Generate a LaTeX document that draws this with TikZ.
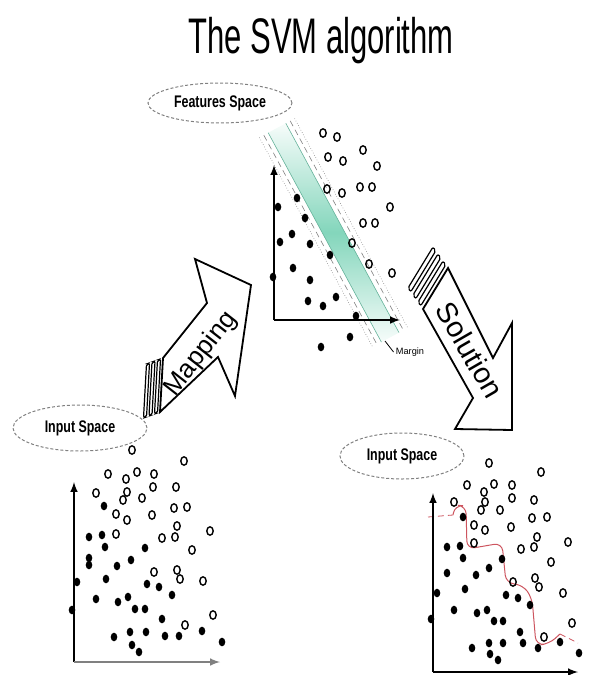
\documentclass[tikz,border=0pt]{standalone}
\usepackage{fontspec}
\setmainfont{Liberation Sans}
\usepackage{graphicx}
\usetikzlibrary{shapes.geometric}
\definecolor{bandgreen}{RGB}{90,200,165}
\definecolor{curvered}{RGB}{205,85,95}
\begin{document}
\begin{tikzpicture}[x=0.5pt,y=-0.5pt,
  spacebox/.style={ellipse, draw=gray, dash pattern=on 1.5pt off 1pt, line width=0.5pt, inner sep=0pt,
    font=\fontsize{8.4}{10}\selectfont\bfseries},
  blockarrow/.style={draw=black, fill=white, line width=0.9pt, line join=miter},
  stripe/.style={draw=black, fill=white, line width=0.6pt, rounded corners=1pt},
  axis/.style={->, >=latex, line width=0.7pt},
  opendot/.style={line width=0.7pt},
  filldot/.style={fill=black}]
\useasboundingbox (0,0) rectangle (590,675);

% title
\node[font=\fontsize{25}{30}\selectfont, xscale=0.62, anchor=base] (title) at (321,53) {The SVM algorithm};

% space labels
\node[spacebox, minimum width=72pt, minimum height=20pt] (feat) at (220,103) {\scalebox{0.74}[1]{Features Space}};
\node[spacebox, minimum width=67pt, minimum height=23pt] (inleft) at (80,428) {\scalebox{0.74}[1]{Input Space}};
\node[spacebox, minimum width=62pt, minimum height=23pt] (inright) at (402,456) {\scalebox{0.74}[1]{Input Space}};

% margin band
\begin{scope}[shift={(277,128)}, rotate=-61.6]
  \shade[top color=bandgreen!5, bottom color=bandgreen!5, middle color=bandgreen!75] (0,-10) rectangle (238,10);
  \foreach \s in {-1,1} {
    \draw[bandgreen!70!gray, line width=0.3pt] (0,\s*10) -- (238,\s*10);
    \draw[gray, densely dashed, line width=0.3pt] (0,\s*15) -- (238,\s*15);
    \draw[gray, densely dotted, line width=0.3pt] (0,\s*20) -- (238,\s*20);
  }
\end{scope}
\coordinate (marginpt) at (385,341);
\node[font=\fontsize{4.6}{5}\selectfont, inner sep=1pt] (margin) at (410,352) {Margin};
\draw[line width=0.4pt] (marginpt) -- (margin.west);

% mapping arrow
\foreach \k in {1,2,3}
  \draw[stripe] ({163-5.5*\k},{358+2*\k}) -- ({160-5.5*\k},{412+2*\k})
    -- ({160-5.5*(\k-0.55)},{412+2*(\k-0.55)}) -- ({163-5.5*(\k-0.55)},{358+2*(\k-0.55)}) -- cycle;
\draw[blockarrow] (163,358) -- (207,303) -- (195,259) -- (251,285) -- (235,396) -- (218,357) -- (160,412) -- cycle;
\node[font=\fontsize{13}{15}\selectfont, rotate=52] (maplabel) at (201,354) {Mapping};

% solution arrow
\foreach \k in {1,2,3}
  \draw[stripe] ({448-5*\k},{268-7*\k}) -- ({423-5*\k},{309-7*\k})
    -- ({423-5*(\k-0.55)},{309-7*(\k-0.55)}) -- ({448-5*(\k-0.55)},{268-7*(\k-0.55)}) -- cycle;
\draw[blockarrow] (448,268) -- (493,358) -- (512,323) -- (512,430) -- (455,429) -- (473,398) -- (423,309) -- cycle;
\node[font=\fontsize{14.5}{16}\selectfont, rotate=-60] (sollabel) at (470,350) {Solution};

% features space
\foreach \x/\y in {297/198,278/207,305/218,292/234,280/242,310/244,330/255,293/268,273/277,310/280,
  308/301,323/306,336/297,356/316,350/337,321/347}
  \fill[filldot] (\x,\y) ellipse[x radius=3.3, y radius=4.3];
\foreach \x/\y in {323/133,337/137,363/150,328/157,343/161,377/166,327/189,342/193,360/187,372/187,
  390/207,363/223,375/223,352/243,369/264,392/273}
  \draw[opendot] (\x,\y) ellipse[x radius=3.2, y radius=4.2];
\draw[axis] (274,320) -- (274,165);
\draw[axis] (274,320) -- (400,320);

% input space, left
\foreach \x/\y in {104/506,89/537,102/535,105/547,89/558,89/565,145/548,131/560,117/566,77/582,
  106/579,147/584,159/587,172/595,96/599,118/602,128/597,135/609,145/609,72/610,162/619,114/637,
  130/632,146/632,165/636,179/636,202/631,132/645,139/652,222/642}
  \fill[filldot] (\x,\y) ellipse[x radius=3.3, y radius=4.3];
\foreach \x/\y in {132/450,184/461,108/474,137/472,154/474,126/479,153/487,176/487,96/493,127/492,
  123/500,142/498,187/507,174/508,116/514,127/520,152/515,177/526,210/531,116/534,162/538,175/537,
  192/550,154/572,177/570,180/579,203/581,213/615,185/625}
  \draw[opendot] (\x,\y) ellipse[x radius=3.2, y radius=4.2];
\draw[axis] (74,662) -- (74,482);
\draw[axis, gray] (74,662) -- (220,662);

% input space, right
\draw[curvered, densely dashed, line width=0.4pt] (428,517) -- (453,515);
\draw[curvered, line width=0.5pt, rounded corners=4pt] (453,515) -- (455,505) -- (466,506) -- (467,549)
  -- (502,543) -- (506,583) -- (523,585) -- (532,598) -- (536,645) -- (549,644) -- (560,634);
\draw[curvered, densely dashed, line width=0.4pt] (560,634) -- (578,643);
\foreach \x/\y in {463/517,447/547,460/546,463/558,447/573,476/575,489/568,502/559,437/593,465/589,
  506/595,518/598,530/605,454/610,477/613,487/610,494/621,503/621,431/619,520/632,472/648,489/643,
  503/643,523/643,538/648,560/642,490/654,498/660,579/653}
  \fill[filldot] (\x,\y) ellipse[x radius=3.3, y radius=4.3];
\foreach \x/\y in {489/463,541/472,467/485,494/484,512/485,484/492,512/498,534/500,454/502,485/502,
  481/510,500/510,532/518,547/517,474/525,485/530,511/527,537/537,568/542,474/543,521/549,534/547,
  551/562,535/578,539/587,513/582,563/593,572/623,544/637}
  \draw[opendot] (\x,\y) ellipse[x radius=3.2, y radius=4.2];
\draw[axis] (433,672) -- (433,493);
\draw[axis] (433,672) -- (578,672);
\end{tikzpicture}
\end{document}
